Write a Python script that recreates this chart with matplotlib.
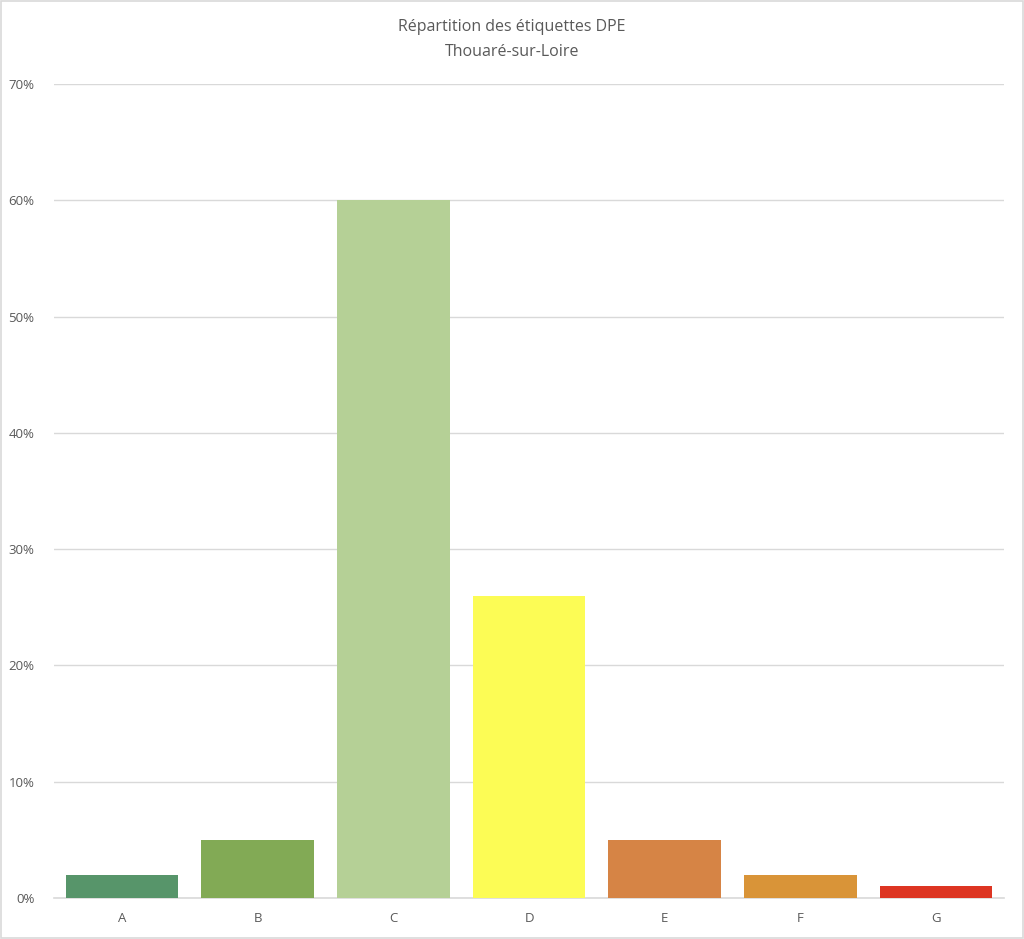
import matplotlib
matplotlib.use("Agg")
import matplotlib.pyplot as plt
from matplotlib.patches import Rectangle
from matplotlib.ticker import FuncFormatter, MultipleLocator

# Données
labels = ["A", "B", "C", "D", "E", "F", "G"]
values = [2, 5, 60, 26, 5, 2, 1]
colors = ["#57956A", "#82AA55", "#B5D096", "#FCFC55", "#D68445", "#D99438", "#DD3522"]

plt.rcParams['font.family'] = ['Open Sans', 'DejaVu Sans']

fig = plt.figure(figsize=(10.24, 9.39), dpi=100)
ax = fig.add_axes([54 / 1024, 41 / 939, 950 / 1024, 814 / 939])

x = range(len(labels))
ax.bar(x, values, width=0.83, color=colors, zorder=3)

ax.set_xlim(-0.5, len(labels) - 0.5)
ax.set_ylim(0, 70)
ax.yaxis.set_major_locator(MultipleLocator(10))
ax.yaxis.set_major_formatter(FuncFormatter(lambda v, p: f"{int(v)}%"))
ax.set_xticks(list(x))
ax.set_xticklabels(labels)

ax.grid(True, axis='y', color='#D9D9D9', linewidth=1, zorder=0)
for s in ['top', 'right', 'left']:
    ax.spines[s].set_visible(False)
ax.spines['bottom'].set_color('#D9D9D9')
ax.spines['bottom'].set_linewidth(1.2)
ax.tick_params(axis='both', length=0, labelsize=9.5, colors='#595959')
ax.tick_params(axis='x', pad=10)
ax.tick_params(axis='y', pad=14)

fig.text(0.5, 1 - 27 / 939, "Répartition des étiquettes DPE", ha='center', va='center',
         fontsize=11.5, color='#595959')
fig.text(0.5, 1 - 52 / 939, "Thouaré-sur-Loire", ha='center', va='center',
         fontsize=11.5, color='#595959')

# cadre gris autour de la figure
fig.patches.append(Rectangle((0.001, 0.001), 0.998, 0.998, transform=fig.transFigure,
                             fill=False, edgecolor='#D9D9D9', linewidth=1.2))

fig.savefig("out.png", dpi=100)
